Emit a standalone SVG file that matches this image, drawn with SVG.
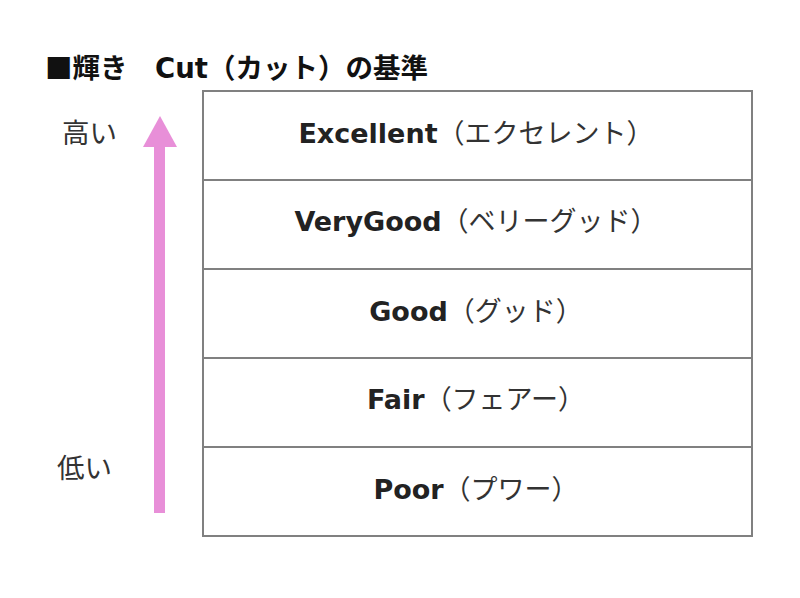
<svg xmlns="http://www.w3.org/2000/svg" width="800" height="598" viewBox="0 0 800 598">
<style>
.row{fill:#fff;stroke:#808080;stroke-width:2}
.lbl{font-family:"DejaVu Sans","Noto Sans CJK JP",sans-serif;font-size:27px;fill:#222;text-anchor:middle}
.en{font-weight:bold}
.jp{font-family:"Noto Sans CJK JP",sans-serif;font-weight:normal;fill:#333}
.side{font-family:"Noto Sans CJK JP",sans-serif;font-size:27.5px;fill:#333}
</style>
<rect width="800" height="598" fill="#fff"/>
<text x="45" y="78" font-family="'Noto Sans CJK JP',sans-serif" font-size="27.5" font-weight="bold" fill="#111">■輝き　<tspan font-family="'DejaVu Sans','Noto Sans CJK JP',sans-serif">Cut</tspan>（カット）の基準</text>
<g id="connectors">
<rect x="154" y="145" width="11" height="368" fill="#e88fd8"/>
<polygon points="160,116 177,147 143,147" fill="#e88fd8"/>
</g>
<text class="side" x="62" y="143">高い</text>
<text class="side" x="57" y="478">低い</text>
<g id="excellent"><rect class="row" x="203" y="91" width="549" height="89"/><text class="lbl" x="476" y="143"><tspan class="en">Excellent</tspan><tspan class="jp">（エクセレント）</tspan></text></g>
<g id="verygood"><rect class="row" x="203" y="180" width="549" height="89"/><text class="lbl" x="476" y="231"><tspan class="en">VeryGood</tspan><tspan class="jp">（ベリーグッド）</tspan></text></g>
<g id="good"><rect class="row" x="203" y="269" width="549" height="89"/><text class="lbl" x="476" y="321"><tspan class="en">Good</tspan><tspan class="jp">（グッド）</tspan></text></g>
<g id="fair"><rect class="row" x="203" y="358" width="549" height="89"/><text class="lbl" x="476" y="409"><tspan class="en">Fair</tspan><tspan class="jp">（フェアー）</tspan></text></g>
<g id="poor"><rect class="row" x="203" y="447" width="549" height="89"/><text class="lbl" x="476" y="499"><tspan class="en">Poor</tspan><tspan class="jp">（プワー）</tspan></text></g>
</svg>
